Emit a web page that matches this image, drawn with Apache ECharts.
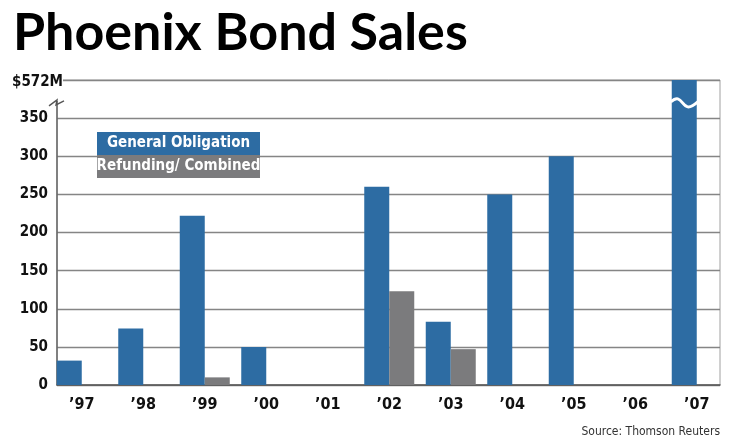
<!DOCTYPE html>
<html lang="en">
<head>
<meta charset="utf-8">
<title>Phoenix Bond Sales</title>
<script src="https://cdn.jsdelivr.net/npm/echarts@6/dist/echarts.min.js"></script>
<style>
    html, body { margin: 0; padding: 0; background: #fff; }
    #chart { width: 740px; height: 444px; }
</style>
</head>
<body>
<div id="chart"></div>
<script>
// data ($ millions)
var years = ['\u201997', '\u201998', '\u201999', '\u201900', '\u201901', '\u201902', '\u201903', '\u201904', '\u201905', '\u201906', '\u201907'];
var generalObligation = [32, 74, 222, 50, null, 260, 83, 250, 300, null, 572];
var refundingCombined = [null, null, 10, null, null, 123, 47, null, null, null, null];
var yTicks = [0, 50, 100, 150, 200, 250, 300, 350];

var BLUE = '#2d6ca3';
var GRAY = '#7b7b7d';
var NARROW = '"DejaVu Sans Condensed", "Liberation Sans", sans-serif';

var plotLeft = 57, plotTop = 80, plotBottom = 59;

var myChart = echarts.init(document.getElementById('chart'));
var option = {
    animation: false,
    title: [{
        text: 'Phoenix Bond Sales',
        left: 8, top: 2,
        textStyle: { fontFamily: 'Lato, "Liberation Sans", sans-serif', fontSize: 52, fontWeight: 'bold', color: '#000' }
    }, {
        text: 'Source: Thomson Reuters',
        right: 15, top: 421,
        textStyle: { fontFamily: NARROW, fontSize: 12, fontWeight: 'normal', color: '#333' }
    }],
    legend: {
        orient: 'vertical',
        left: 87, top: 127,
        itemGap: 0, itemWidth: 0, itemHeight: 0,
        icon: 'none',
        selectedMode: false,
        data: ['General Obligation', 'Refunding/ Combined'],
        formatter: function (name) {
            return (name === 'General Obligation' ? '{g|' : '{r|') + name + '}';
        },
        textStyle: {
            rich: {
                g: { backgroundColor: BLUE, color: '#fff', fontFamily: NARROW, fontSize: 15, fontWeight: 'bold', width: 163, height: 23, lineHeight: 23, align: 'center' },
                r: { backgroundColor: GRAY, color: '#fff', fontFamily: NARROW, fontSize: 15, fontWeight: 'bold', width: 163, height: 23, lineHeight: 23, align: 'center' }
            }
        }
    },
    grid: [
        // bars and year labels (categories run a little past the frame)
        { left: 51, right: 12.5, top: plotTop, bottom: plotBottom },
        // frame, value axis and gridlines
        { left: plotLeft, right: 20, top: plotTop, bottom: plotBottom, show: true, borderColor: '#a0a0a0', borderWidth: 1 }
    ],
    xAxis: [{
        type: 'category', gridIndex: 0, data: years,
        axisLine: { show: false }, axisTick: { show: false },
        axisLabel: { fontFamily: NARROW, fontSize: 16, fontWeight: 'bold', color: '#111', margin: 12 }
    }, {
        type: 'category', gridIndex: 1, data: years,
        axisLine: { lineStyle: { color: '#555', width: 1.5 } },
        axisTick: { show: false }, axisLabel: { show: false }
    }],
    yAxis: [{
        type: 'value', gridIndex: 0, min: 0, max: 400, interval: 50, show: false
    }, {
        type: 'value', gridIndex: 1, min: 0, max: 400, interval: 50,
        axisLine: { show: true, lineStyle: { color: '#666', width: 1.5 } },
        axisTick: { show: false },
        splitLine: { lineStyle: { color: '#858585', width: 1.4 } },
        axisLabel: {
            fontFamily: NARROW, fontSize: 15, fontWeight: 'bold', color: '#111', margin: 9,
            formatter: function (v) { return yTicks.indexOf(v) >= 0 ? String(v) : ''; }
        }
    }],
    series: [{
        name: 'General Obligation', type: 'bar', xAxisIndex: 0, yAxisIndex: 0,
        data: generalObligation, barWidth: 25, barGap: '0%',
        itemStyle: { color: BLUE }
    }, {
        name: 'Refunding/ Combined', type: 'bar', xAxisIndex: 0, yAxisIndex: 0,
        data: refundingCombined, barWidth: 25, barGap: '0%',
        itemStyle: { color: GRAY }
    }]
};
myChart.setOption(option);

// axis break marks
var breakY = myChart.convertToPixel({ yAxisIndex: 1 }, 370);
var topY = myChart.convertToPixel({ yAxisIndex: 1 }, 400);
var barPt = myChart.convertToPixel({ xAxisIndex: 0, yAxisIndex: 0 }, [10, 370]);
var bx = barPt[0] - 25;   // left edge of the '07 blue bar

myChart.setOption({
    graphic: [{
        type: 'rect', z: 50,
        shape: { x: plotLeft - 3, y: topY + 1, width: 6, height: breakY - topY - 3 },
        style: { fill: '#fff' }
    }, {
        type: 'polyline', z: 51,
        shape: { points: [[plotLeft - 8, breakY + 3], [plotLeft, breakY - 3], [plotLeft - 1, breakY + 2], [plotLeft + 7, breakY - 2]] },
        style: { stroke: '#555', lineWidth: 1.4, fill: null }
    }, {
        type: 'polyline', z: 51,
        shape: { smooth: 0.4, points: [[bx - 1, breakY - 1], [bx + 6, breakY - 4], [bx + 16, breakY + 4], [bx + 26, breakY - 1]] },
        style: { stroke: '#fff', lineWidth: 3, fill: null }
    }, {
        type: 'text', z: 52,
        left: 12, top: topY - 5,
        style: { text: '$572M', fontFamily: NARROW, fontSize: 15, fontWeight: 'bold', fill: '#111', backgroundColor: '#fff' }
    }]
});
</script>
</body>
</html>
